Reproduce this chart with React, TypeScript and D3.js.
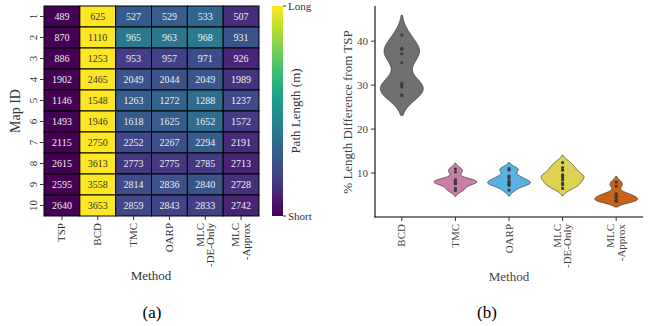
import React from 'react';
import * as d3 from 'd3';

// path lengths (m) per method, one entry per map (Map ID 1..10)
const mapIds = ['1', '2', '3', '4', '5', '6', '7', '8', '9', '10'];
const methods = ['TSP', 'BCD', 'TMC', 'OARP', 'MLC\n-DE-Only', 'MLC\n-Approx'];
const tsp = [489, 870, 886, 1902, 1146, 1493, 2115, 2615, 2595, 2640];
const bcd = [625, 1110, 1253, 2465, 1548, 1946, 2750, 3613, 3558, 3653];
const tmc = [527, 965, 953, 2049, 1263, 1618, 2252, 2773, 2814, 2859];
const oarp = [529, 963, 957, 2044, 1272, 1625, 2267, 2775, 2836, 2843];
const mlcDeOnly = [533, 968, 971, 2049, 1288, 1652, 2294, 2785, 2840, 2833];
const mlcApprox = [507, 931, 926, 1989, 1237, 1572, 2191, 2713, 2728, 2742];

const yTicks = [10, 20, 30, 40];
const violinColors = ['#707070', '#C97DA9', '#58B2E4', '#DDD352', '#C9621A'];

const FONT = 'Liberation Serif, Times New Roman, DejaVu Serif, serif';

const columns = [tsp, bcd, tmc, oarp, mlcDeOnly, mlcApprox];

// % difference from TSP for every other method
const violinData = columns.slice(1).map((col, j) => ({
  method: methods[j + 1],
  values: col.map((v, i) => ((v - tsp[i]) / tsp[i]) * 100),
}));

const RotLabel = ({ x, y, text, size = 11, fill = '#333' }) => {
  const lines = text.split('\n');
  const lh = size * 0.95;
  const start = 3.5 - ((lines.length - 1) * lh) / 2;
  return (
    <text
      transform={`translate(${x},${y}) rotate(-90)`}
      textAnchor="end"
      fontSize={size}
      fill={fill}
      style={{ fontFamily: FONT }}
    >
      {lines.map((l, k) => (
        <tspan key={k} x={0} y={start + k * lh}>{l}</tspan>
      ))}
    </text>
  );
};

const Heatmap = () => {
  const x = d3.scaleBand().domain(methods).range([44, 259]);
  const y = d3.scaleBand().domain(mapIds).range([6, 216]);
  const cells = [];
  mapIds.forEach((id, i) => {
    const row = columns.map(c => c[i]);
    const norm = d3.scaleLinear().domain(d3.extent(row)).range([0, 1]);
    row.forEach((v, j) => {
      cells.push({ id, m: methods[j], v, t: norm(v) });
    });
  });
  const stops = d3.range(0, 1.01, 0.1);
  return (
    <g>
      <defs>
        <linearGradient id="viridis" x1="0" y1="1" x2="0" y2="0">
          {stops.map(s => (
            <stop key={s} offset={`${s * 100}%`} stopColor={d3.interpolateViridis(s)} />
          ))}
        </linearGradient>
      </defs>
      {cells.map((c, k) => (
        <g key={k}>
          <rect
            x={x(c.m)}
            y={y(c.id)}
            width={x.bandwidth()}
            height={y.bandwidth()}
            fill={d3.interpolateViridis(c.t)}
            stroke="#000"
            strokeWidth={1}
          />
          <text
            x={x(c.m) + x.bandwidth() / 2}
            y={y(c.id) + y.bandwidth() / 2 + 3.5}
            textAnchor="middle"
            fontSize={10}
            style={{ fontFamily: FONT }}
            fill={c.t > 0.7 ? '#333' : '#eee'}
          >
            {c.v}
          </text>
        </g>
      ))}
      {mapIds.map(id => (
        <g key={id}>
          <line x1={40} x2={44} y1={y(id) + y.bandwidth() / 2} y2={y(id) + y.bandwidth() / 2} stroke="#333" />
          <text
            transform={`translate(37,${y(id) + y.bandwidth() / 2}) rotate(-90)`}
            textAnchor="middle"
            fontSize={11}
            fill="#333"
            style={{ fontFamily: FONT }}
          >
            {id}
          </text>
        </g>
      ))}
      {methods.map(m => (
        <g key={m}>
          <line x1={x(m) + x.bandwidth() / 2} x2={x(m) + x.bandwidth() / 2} y1={216} y2={220} stroke="#333" />
          <RotLabel x={x(m) + x.bandwidth() / 2} y={223} text={m} />
        </g>
      ))}
      <text transform="translate(20,111) rotate(-90)" textAnchor="middle" fontSize={14} fill="#333" style={{ fontFamily: FONT }}>
        Map ID
      </text>
      <text x={151} y={280} textAnchor="middle" fontSize={13} fill="#333" style={{ fontFamily: FONT }}>Method</text>
      <text x={152} y={318} textAnchor="middle" fontSize={17} fill="#000" style={{ fontFamily: FONT }}>(a)</text>

      {/* colorbar */}
      <rect x={272} y={6} width={11} height={210} fill="url(#viridis)" />
      <line x1={283} x2={286} y1={6} y2={6} stroke="#333" />
      <line x1={283} x2={286} y1={216} y2={216} stroke="#333" />
      <text x={288} y={10} fontSize={11} fill="#333" style={{ fontFamily: FONT }}>Long</text>
      <text x={288} y={220} fontSize={11} fill="#333" style={{ fontFamily: FONT }}>Short</text>
      <text transform="translate(300,111) rotate(-90)" textAnchor="middle" fontSize={13} fill="#333" style={{ fontFamily: FONT }}>
        Path Length (m)
      </text>
    </g>
  );
};

const kde = (values, n = 160) => {
  const sd = d3.deviation(values);
  const bw = 0.7 * Math.pow(values.length, -0.2) * sd;
  const lo = d3.min(values) - 2 * bw, hi = d3.max(values) + 2 * bw;
  const pts = d3.range(n).map(k => {
    const v = lo + ((hi - lo) * k) / (n - 1);
    const dens = d3.sum(values, xi => Math.exp(-0.5 * ((v - xi) / bw) ** 2));
    return { v, dens };
  });
  const mx = d3.max(pts, p => p.dens);
  return pts.map(p => ({ v: p.v, w: p.dens / mx }));
};

const Violins = () => {
  const x = d3.scaleBand().domain(violinData.map(d => d.method)).range([375, 643]);
  const y = d3.scaleLinear().domain([0, 48]).range([217, 6]);
  const half = x.bandwidth() * 0.4;
  return (
    <g>
      {violinData.map((d, j) => {
        const cx = x(d.method) + x.bandwidth() / 2;
        const area = d3.area()
          .y(p => y(p.v))
          .x0(p => cx - p.w * half)
          .x1(p => cx + p.w * half);
        return (
          <g key={d.method}>
            <path d={area(kde(d.values))} fill={violinColors[j]} stroke="#333" strokeWidth={0.7} />
            {d.values.map((v, k) => (
              <circle key={k} cx={cx} cy={y(v)} r={1.6} fill="#3a3a3a" />
            ))}
          </g>
        );
      })}
      <line x1={375} x2={375} y1={6} y2={217.5} stroke="#000" strokeWidth={1.1} />
      <line x1={374.5} x2={643} y1={217} y2={217} stroke="#000" strokeWidth={1.1} />
      {yTicks.map(t => (
        <g key={t}>
          <line x1={371} x2={375} y1={y(t)} y2={y(t)} stroke="#333" />
          <text x={368} y={y(t) + 3.5} textAnchor="end" fontSize={11} fill="#444" style={{ fontFamily: FONT }}>{t}</text>
        </g>
      ))}
      {violinData.map(d => (
        <g key={d.method}>
          <line x1={x(d.method) + x.bandwidth() / 2} x2={x(d.method) + x.bandwidth() / 2} y1={217} y2={221} stroke="#333" />
          <RotLabel x={x(d.method) + x.bandwidth() / 2} y={224} text={d.method} fill="#444" />
        </g>
      ))}
      <text transform="translate(352,112) rotate(-90)" textAnchor="middle" fontSize={13} fill="#444" style={{ fontFamily: FONT }}>
        % Length Difference from TSP
      </text>
      <text x={509} y={281} textAnchor="middle" fontSize={13} fill="#444" style={{ fontFamily: FONT }}>Method</text>
      <text x={487} y={318} textAnchor="middle" fontSize={17} fill="#000" style={{ fontFamily: FONT }}>(b)</text>
    </g>
  );
};

export default function App() {
  return (
    <svg
      width={649}
      height={326}
      style={{ position: 'absolute', left: 0, top: 0, background: '#fff' }}
    >
      <rect width={649} height={326} fill="#fff" />
      <Heatmap />
      <Violins />
    </svg>
  );
}
